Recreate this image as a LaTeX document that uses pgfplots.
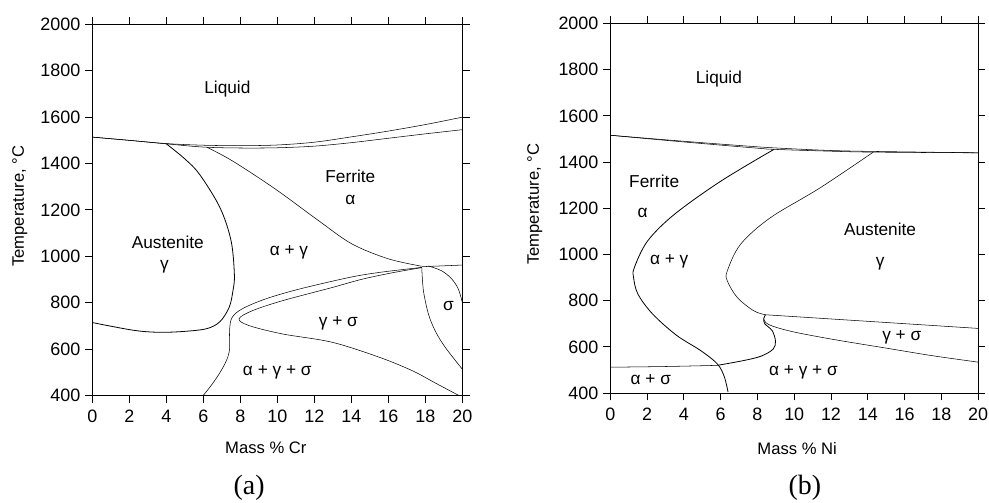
\documentclass[border=0pt]{standalone}
\usepackage{fontspec}
\setmainfont{Liberation Sans}
\newfontfamily\capfont{Liberation Serif}
\usepackage{pgfplots}
\pgfplotsset{compat=1.18}
\newcommand\tlf{\fontsize{13.5}{15}\selectfont}
\pgfplotsset{
  pd/.style={
    scale only axis,
    xmin=0, xmax=20, ymin=400, ymax=2000,
    xtick={0,2,...,20}, ytick={400,600,...,2000},
    tick align=outside, tick pos=both, major tick length=5.5pt,
    axis line style={line width=0.8pt},
    tick style={line width=0.7pt, black},
    /pgf/number format/assume math mode=true,
    /pgf/number format/1000 sep={},
    xticklabel style={font=\tlf, yshift=-2pt},
    yticklabel style={font=\tlf},
    label style={font=\fontsize{12.5}{14}\selectfont},
    cycle list={{black, solid, line width=0.6pt, mark=none}},
    every axis plot/.append style={smooth, tension=0.55},
    clip=false,
  },
}
\tikzset{lab/.style={font=\fontsize{13}{15}\selectfont, inner sep=0pt}}
\begin{document}
\begin{tikzpicture}
\useasboundingbox (0,0) rectangle (744.5pt,378.6pt);
% ---------------- (a) ----------------
\begin{axis}[pd, at={(69.5pt,81pt)}, anchor=south west,
  width=278.5pt, height=279.2pt,
  xlabel={Mass \% Cr}, ylabel={Temperature, °C},
  xlabel style={at={(axis description cs:0.469,-0.142)}, anchor=center},
  ylabel style={at={(axis description cs:-0.196,0.510)}, anchor=center},
]
% liquidus
\addplot coordinates {(0,1514) (2,1500) (4,1486) (6,1479) (8,1477) (10,1480) (12,1492) (14,1515) (16,1540) (18,1568) (20,1600)};
% solidus
\addplot coordinates {(0,1514) (2,1500) (4,1485) (6,1471) (8,1467) (10,1468) (12,1475) (14,1490) (16,1509) (18,1528) (20,1546)};
% gamma loop
\addplot coordinates {(4,1485) (5.0,1420) (5.8,1353) (6.9,1210) (7.5,1067) (7.68,920) (7.6,850) (7.4,780) (6.9,718) (6.2,688) (5.0,676) (3.6,672) (2.2,681) (0,714)};
% alpha / alpha+gamma
\addplot coordinates {(6.2,1470) (7.58,1411) (9.91,1289) (12.24,1153) (14.04,1053) (16.0,989) (17.8,957)};
% outer curve
\addplot coordinates {(6.0,400) (6.4,440) (6.86,493) (7.25,550) (7.42,600) (7.42,680) (7.55,735) (8.1,773) (9.37,816) (11.17,858) (13.86,908) (15.49,930) (17.82,952)};
% inner curve (gamma+sigma)
\addplot coordinates {(19.8,400) (18.5,455) (17.28,507) (15.49,565) (12.96,629) (10.27,665) (8.47,701) (7.93,730) (8.65,765) (10.27,808) (12.96,865) (14.59,901) (16.3,930) (17.82,951)};
% horizontal
\addplot[sharp plot] coordinates {(17.82,955) (20,962)};
% sigma left
\addplot coordinates {(17.81,951) (17.9,851) (18.17,751) (18.53,679) (19.07,608) (20,513)};
% sigma right
\addplot coordinates {(18.17,958) (18.89,937) (19.43,902) (19.79,858) (20,801)};
\node[lab] at (axis cs:7.3,1722) {Liquid};
\node[lab] at (axis cs:13.95,1343) {Ferrite};
\node[lab] at (axis cs:13.95,1243) {α};
\node[lab] at (axis cs:4.08,1060) {Austenite};
\node[lab] at (axis cs:3.9,953) {γ};
\node[lab] at (axis cs:10.63,1017) {α + γ};
\node[lab] at (axis cs:13.3,712) {γ + σ};
\node[lab] at (axis cs:19.25,784) {σ};
\node[lab] at (axis cs:10,499) {α + γ + σ};
\node[font=\capfont\fontsize{21}{24}\selectfont, inner sep=0pt] at (axis description cs:0.424,-0.25) {(a)};
\end{axis}
% ---------------- (b) ----------------
\begin{axis}[pd, at={(459.5pt,82.7pt)}, anchor=south west,
  width=276.75pt, height=278.25pt,
  xlabel={Mass \% Ni}, ylabel={Temperature, °C},
  xlabel style={at={(axis description cs:0.508,-0.149)}, anchor=center},
  ylabel style={at={(axis description cs:-0.206,0.511)}, anchor=center},
]
\addplot coordinates {(0,1516) (4,1490) (8,1466) (10,1457) (12,1450) (14.3,1446) (20,1440)};
\addplot coordinates {(0,1516) (4,1487) (8,1460) (8.9,1455) (12,1447) (14.3,1443) (20,1440)};
% alpha / alpha+gamma
\addplot coordinates {(8.9,1455) (6.0,1317) (3.47,1173) (2.02,1058) (1.3,943) (1.26,900) (1.5,828) (2.3,742) (3.6,650) (4.91,584) (5.82,526) (6.2,470) (6.4,404)};
% gamma / alpha+gamma
\addplot coordinates {(14.3,1443) (11.4,1288) (8.7,1159) (7.08,1044) (6.36,929) (6.36,886) (6.9,814) (7.8,756) (8.44,739)};
% upper gamma+sigma line
\addplot[sharp plot] coordinates {(8.44,739) (20,680)};
% lower gamma+sigma boundary
\addplot coordinates {(8.34,722) (8.6,697) (9.79,668) (12,634) (15.2,592) (17.5,562) (20,534)};
% S curve
\addplot coordinates {(8.44,739) (8.34,722) (8.4,700) (8.8,670) (8.98,625) (8.85,590) (8.2,560) (7.26,541) (5.82,520)};
% horizontal
\addplot coordinates {(0,512) (3,515) (5.82,520)};
\node[lab] at (axis cs:5.9,1760) {Liquid};
\node[lab] at (axis cs:2.38,1317) {Ferrite};
\node[lab] at (axis cs:1.75,1181) {α};
\node[lab] at (axis cs:3.2,972) {α + γ};
\node[lab] at (axis cs:14.67,1109) {Austenite};
\node[lab] at (axis cs:14.67,958) {γ};
\node[lab] at (axis cs:15.85,641) {γ + σ};
\node[lab] at (axis cs:10.5,490) {α + γ + σ};
\node[lab] at (axis cs:2.2,459) {α + σ};
\node[font=\capfont\fontsize{21}{24}\selectfont, inner sep=0pt] at (axis description cs:0.529,-0.257) {(b)};
\end{axis}
\end{tikzpicture}
\end{document}
